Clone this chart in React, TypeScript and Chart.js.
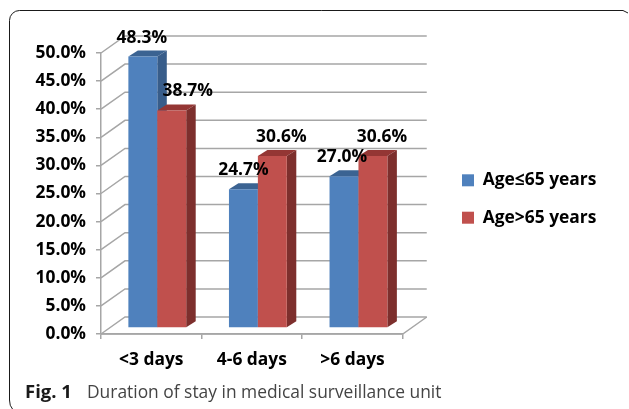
import React, { useEffect, useRef } from "react";
import { Chart, registerables } from "chart.js";

Chart.register(...registerables);

const categories = ["<3 days", "4-6 days", ">6 days"];
const youngLabel = "Age≤65 years";
const olderLabel = "Age>65 years";
const youngValues = [48.3, 24.7, 27.0];
const olderValues = [38.7, 30.6, 30.6];
const captionBold = "Fig. 1";
const captionText = "Duration of stay in medical surveillance unit";

const FONT = "'Open Sans', sans-serif";
const GRID = "#a6a6a6";
const DX = 24;
const DY = -17;
const BAR_SHIFT_X = 6;
const BAR_SHIFT_Y = -6;
const DEPTH_X = 9.5;
const DEPTH_Y = -6;
const sideColours = ["#385d8a", "#7d2f2d"];
const topColours = ["#3b6392", "#943634"];
const labelNudge = [
  [-1, 0, -2],
  [16, 9, 9],
];

const threeD = {
  id: "threeD",
  afterLayout(chart: any) {
    const lg = chart.legend;
    lg.left = 442;
    lg.right = 629;
    lg.width = 187;
    lg.top -= 32;
    lg.bottom -= 32;
  },
  beforeDatasetsDraw(chart: any) {
    const { ctx, chartArea: a, scales } = chart;
    const y = scales.y;
    ctx.save();
    ctx.strokeStyle = GRID;
    ctx.lineWidth = 1.5;
    y.ticks.forEach((t: any) => {
      const py = y.getPixelForValue(t.value);
      ctx.beginPath();
      ctx.moveTo(a.left, py);
      ctx.lineTo(a.left + DX, py + DY);
      ctx.lineTo(a.right + DX, py + DY);
      ctx.stroke();
    });
    ctx.beginPath();
    ctx.moveTo(a.left, y.getPixelForValue(0));
    ctx.lineTo(a.right, y.getPixelForValue(0));
    ctx.lineTo(a.right + DX, y.getPixelForValue(0) + DY);
    ctx.stroke();
    ctx.restore();

    // Left-to-right painting, so each red bar covers the blue bar's side face.
    chart.data.datasets.forEach((_: any, i: number) => {
      ctx.save();
      ctx.translate(BAR_SHIFT_X, BAR_SHIFT_Y);
      chart.getDatasetMeta(i).data.forEach((b: any) => {
        const half = b.width / 2;
        const l = b.x - half;
        const r = b.x + half;
        ctx.fillStyle = topColours[i];
        ctx.beginPath();
        ctx.moveTo(l, b.y);
        ctx.lineTo(l + DEPTH_X, b.y + DEPTH_Y);
        ctx.lineTo(r + DEPTH_X, b.y + DEPTH_Y);
        ctx.lineTo(r, b.y);
        ctx.closePath();
        ctx.fill();
        ctx.fillStyle = sideColours[i];
        ctx.beginPath();
        ctx.moveTo(r, b.y);
        ctx.lineTo(r + DEPTH_X, b.y + DEPTH_Y);
        ctx.lineTo(r + DEPTH_X, b.base + DEPTH_Y);
        ctx.lineTo(r, b.base);
        ctx.closePath();
        ctx.fill();
        b.draw(ctx);
      });
      ctx.restore();
    });
  },
  beforeDatasetDraw() {
    return false;
  },
  afterDatasetsDraw(chart: any) {
    const { ctx } = chart;
    ctx.save();
    ctx.font = `bold 17.4px ${FONT}`;
    ctx.fillStyle = "#000";
    ctx.textAlign = "center";
    ctx.textBaseline = "middle";
    chart.data.datasets.forEach((ds: any, i: number) => {
      chart.getDatasetMeta(i).data.forEach((b: any, j: number) => {
        const text = ds.data[j].toFixed(1) + "%";
        ctx.fillText(text, b.x + BAR_SHIFT_X + labelNudge[i][j], b.y + BAR_SHIFT_Y - 19);
      });
    });
    ctx.restore();
  },
  afterDraw(chart: any) {
    const { ctx } = chart;
    ctx.save();
    ctx.strokeStyle = "#1a1a1a";
    ctx.lineWidth = 1;
    ctx.beginPath();
    ctx.moveTo(12.5, 409);
    ctx.quadraticCurveTo(9.5, 406, 9.5, 400);
    ctx.lineTo(9.5, 21);
    ctx.arcTo(9.5, 10.5, 20, 10.5, 10);
    ctx.lineTo(623, 10.5);
    ctx.lineTo(628, 13);
    ctx.stroke();
    ctx.textBaseline = "alphabetic";
    ctx.textAlign = "left";
    ctx.fillStyle = "#1a1a1a";
    ctx.font = `bold 18.5px 'Open Sans', sans-serif`;
    ctx.fillText(captionBold, 25, 398);
    ctx.fillStyle = "#444";
    ctx.font = `17.4px 'Open Sans', sans-serif`;
    ctx.fillText(captionText, 87, 398);
    ctx.restore();
  },
};

export default function App() {
  const ref = useRef<HTMLCanvasElement>(null);
  useEffect(() => {
    document.body.style.margin = "0";
    document.body.style.background = "#fff";
    const chart = new Chart(ref.current!, {
      type: "bar",
      data: {
        labels: categories,
        datasets: [
          { label: youngLabel, data: youngValues, backgroundColor: "#4f81bd" },
          { label: olderLabel, data: olderValues, backgroundColor: "#c0504d" },
        ],
      },
      options: {
        responsive: false,
        animation: false,
        devicePixelRatio: 1,
        datasets: { bar: { categoryPercentage: 0.575, barPercentage: 1 } },
        layout: { padding: { top: 53, left: 0, right: 92, bottom: 0 } },
        plugins: {
          title: { display: false },
          tooltip: { enabled: false },
          legend: {
            position: "right",
            labels: {
              color: "#000",
              font: { family: FONT, weight: "bold", size: 17.4 },
              boxWidth: 12,
              boxHeight: 12,
              padding: 20,
            },
          },
        },
        scales: {
          x: {
            afterFit: (s: any) => { s.height = 75; },
            border: { color: GRID, width: 1.5 },
            grid: { drawOnChartArea: false, color: GRID, tickLength: 5, lineWidth: 1.5 },
            ticks: { color: "#000", padding: 11, font: { family: FONT, weight: "bold", size: 17.4 } },
          },
          y: {
            min: 0,
            max: 50,
            afterFit: (s: any) => { s.width = 101; },
            border: { color: GRID, width: 1.5 },
            grid: { drawOnChartArea: false, color: GRID, tickLength: 5, lineWidth: 1.5 },
            ticks: {
              stepSize: 5,
              color: "#000",
              padding: 10,
              font: { family: FONT, weight: "bold", size: 17.4 },
              callback: (v: any) => Number(v).toFixed(1) + "%",
            },
          },
        },
      },
      plugins: [threeD],
    } as any);
    return () => chart.destroy();
  }, []);
  return <canvas ref={ref} width={629} height={409} style={{ display: "block" }} />;
}
